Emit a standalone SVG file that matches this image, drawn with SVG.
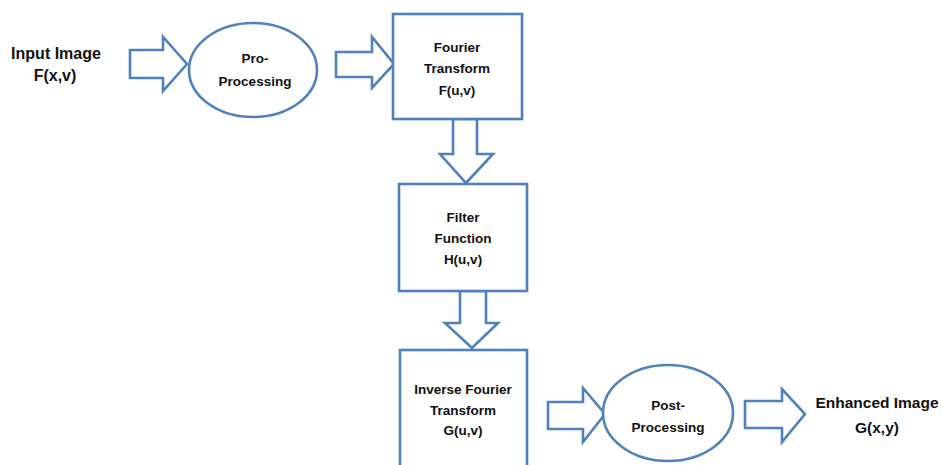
<svg xmlns="http://www.w3.org/2000/svg" width="942" height="465" viewBox="0 0 942 465">
<style>
.s{fill:#fff;stroke:#4F81BD;stroke-width:2.6;stroke-linejoin:miter}
.t{font-family:"Liberation Sans",Arial,sans-serif;font-weight:bold;fill:#111;text-anchor:middle}
.n{font-size:13.5px}
.b{font-size:16px}
</style>
<rect width="942" height="465" fill="#fff"/>
<g id="connectors">
<polygon class="s" points="130,50 163,50 163,37 187,64 163,91 163,78 130,78"/>
<polygon class="s" points="336,52 372,52 372,37 394,64 372,88 372,77 336,77"/>
<polygon class="s" points="453,119 477,119 477,154 493,154 466,183 440,154 453,154"/>
<polygon class="s" points="460,291 486,291 486,323 498,323 472,348 445,323 460,323"/>
<polygon class="s" points="548,402 583,402 583,388 605,414 583,442 583,429 548,429"/>
<polygon class="s" points="745,401 782,401 782,389 805,414 782,442 782,428 745,428"/>
</g>
<g id="input">
<text class="t b" x="56" y="59">Input Image</text>
<text class="t b" x="55" y="81">F(x,v)</text>
</g>
<g id="preprocessing">
<ellipse class="s" cx="253" cy="70" rx="64" ry="47"/>
<text class="t n" x="255" y="63">Pro-</text>
<text class="t n" x="255" y="86">Processing</text>
</g>
<g id="fourier">
<rect class="s" x="393" y="14" width="129" height="105"/>
<text class="t n" x="457" y="52">Fourier</text>
<text class="t n" x="457" y="73">Transform</text>
<text class="t n" x="457" y="95">F(u,v)</text>
</g>
<g id="filter">
<rect class="s" x="399" y="184" width="128" height="107"/>
<text class="t n" x="463" y="222">Filter</text>
<text class="t n" x="463" y="243">Function</text>
<text class="t n" x="463" y="264">H(u,v)</text>
</g>
<g id="inverse">
<rect class="s" x="400" y="350" width="127" height="130"/>
<text class="t n" x="463" y="394">Inverse Fourier</text>
<text class="t n" x="463" y="415">Transform</text>
<text class="t n" x="463" y="435">G(u,v)</text>
</g>
<g id="postprocessing">
<ellipse class="s" cx="668" cy="413" rx="65" ry="48"/>
<text class="t n" x="668" y="410">Post-</text>
<text class="t n" x="668" y="432">Processing</text>
</g>
<g id="output">
<text class="t" style="font-size:15.5px" x="877" y="408">Enhanced Image</text>
<text class="t" style="font-size:15.5px" x="877" y="433">G(x,y)</text>
</g>
</svg>
